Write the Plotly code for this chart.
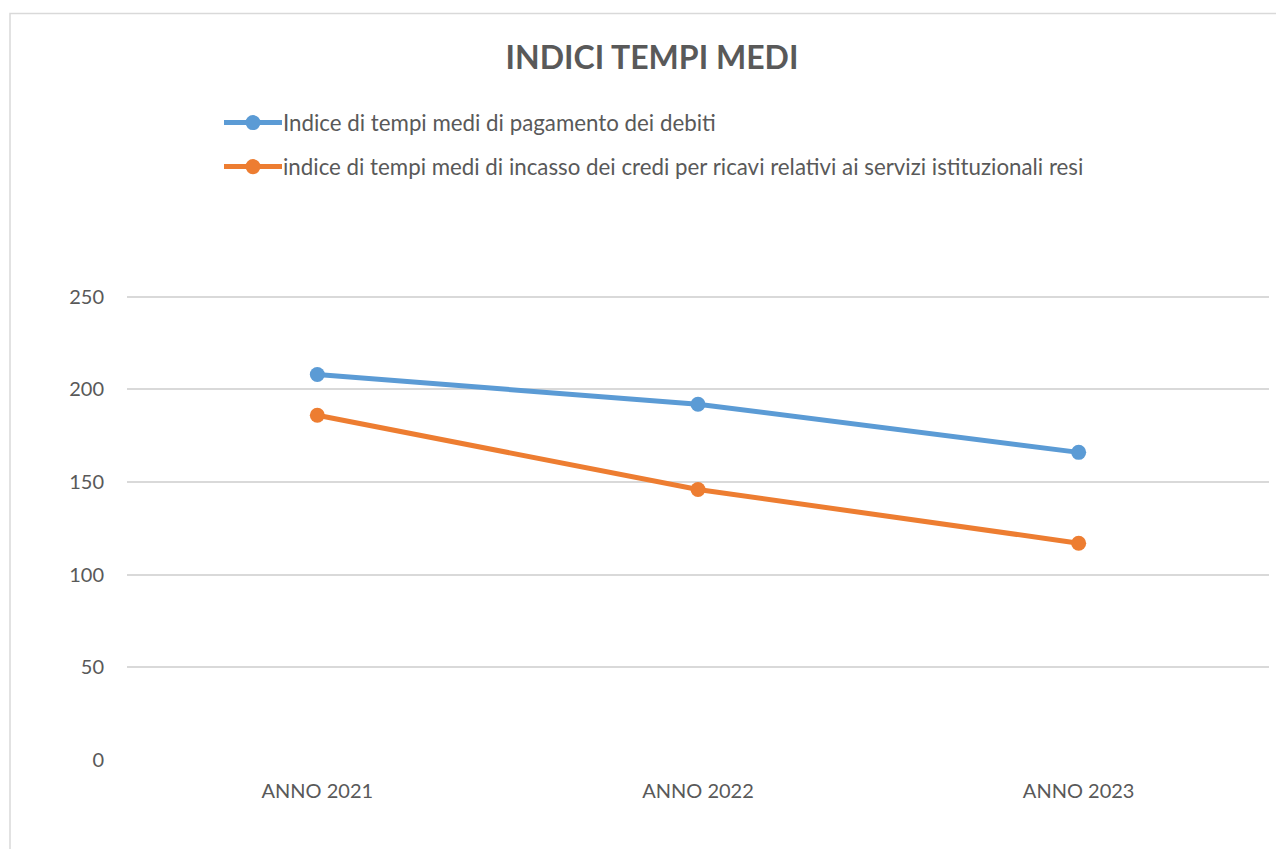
import plotly.graph_objects as go

categories = ["ANNO 2021", "ANNO 2022", "ANNO 2023"]
series_names = [
    "Indice di tempi medi di pagamento dei debiti",
    "indice di tempi medi di incasso dei credi per ricavi relativi ai servizi istituzionali resi",
]
pagamento_debiti = [208, 192, 166]
incasso_crediti = [186, 146, 117]
y_ticks = [0, 50, 100, 150, 200, 250]
title_text = "INDICI TEMPI MEDI"

colors = ["#5B9BD5", "#ED7D31"]
FONT = "Lato"
TEXT = "#595959"

OFF = 8  # page body margin
Y_MAX = 252
PX_PER_UNIT = (760 - 297) / 250
W, H = 1284 - OFF, 849 - OFF
L = 127 - OFF
R = W - (1269 - OFF)
T = (760 - Y_MAX * PX_PER_UNIT) - OFF
B = H - (760 - OFF)
PW, PH = W - L - R, H - T - B


def px_x(p):
    return (p - OFF - L) / PW


def px_y(p):
    return (H - B - (p - OFF)) / PH


fig = go.Figure()
for name, vals, c in zip(series_names, [pagamento_debiti, incasso_crediti], colors):
    fig.add_trace(go.Scatter(
        x=categories, y=vals, name=name, mode="lines+markers",
        line=dict(color=c, width=5),
        marker=dict(color=c, size=15),
        showlegend=False,
    ))

shapes = []
annotations = []
# chart border
shapes.append(dict(type="rect", xref="paper", yref="paper",
                   x0=px_x(10), x1=px_x(1400), y0=px_y(1000), y1=px_y(14),
                   line=dict(color="#d9d9d9", width=1.5), fillcolor="rgba(0,0,0,0)",
                   layer="below"))
# custom legend
for i, (name, c) in enumerate(zip(series_names, colors)):
    yy = px_y(123 + 44 * i)
    shapes.append(dict(type="line", xref="paper", yref="paper",
                       x0=px_x(224), x1=px_x(282), y0=yy, y1=yy,
                       line=dict(color=c, width=5)))
    shapes.append(dict(type="circle", xref="paper", yref="paper",
                       x0=px_x(253 - 7.5), x1=px_x(253 + 7.5),
                       y0=yy - 7.5 / PH, y1=yy + 7.5 / PH,
                       fillcolor=c, line=dict(color=c, width=0)))
    annotations.append(dict(text=name, xref="paper", yref="paper",
                            x=px_x(281), y=yy, xanchor="left", yanchor="middle",
                            showarrow=False, font=dict(family=FONT, size=22.3, color=TEXT)))

fig.update_layout(
    width=W, height=H, autosize=False,
    margin=dict(l=L, r=R, t=T, b=B),
    paper_bgcolor="white", plot_bgcolor="white",
    title=dict(text=f"<b>{title_text}</b>", xref="container", yref="container",
               x=(652 - OFF) / W, y=1 - (58 - OFF) / H, xanchor="center", yanchor="middle",
               font=dict(family=FONT, size=32, color=TEXT)),
    shapes=shapes, annotations=annotations,
    showlegend=False,
    xaxis=dict(type="category", range=[-0.5, 2.5], showgrid=False, showline=False,
               zeroline=False, tickfont=dict(family=FONT, size=20, color=TEXT),
               ticklabelstandoff=17, fixedrange=True),
    yaxis=dict(range=[0, Y_MAX], tickvals=y_ticks, showgrid=True, gridcolor="#d9d9d9",
               gridwidth=1.5, zeroline=False, showline=False,
               tickfont=dict(family=FONT, size=20, color=TEXT),
               ticklabelstandoff=22, fixedrange=True),
)

fig.write_html("out.html")
